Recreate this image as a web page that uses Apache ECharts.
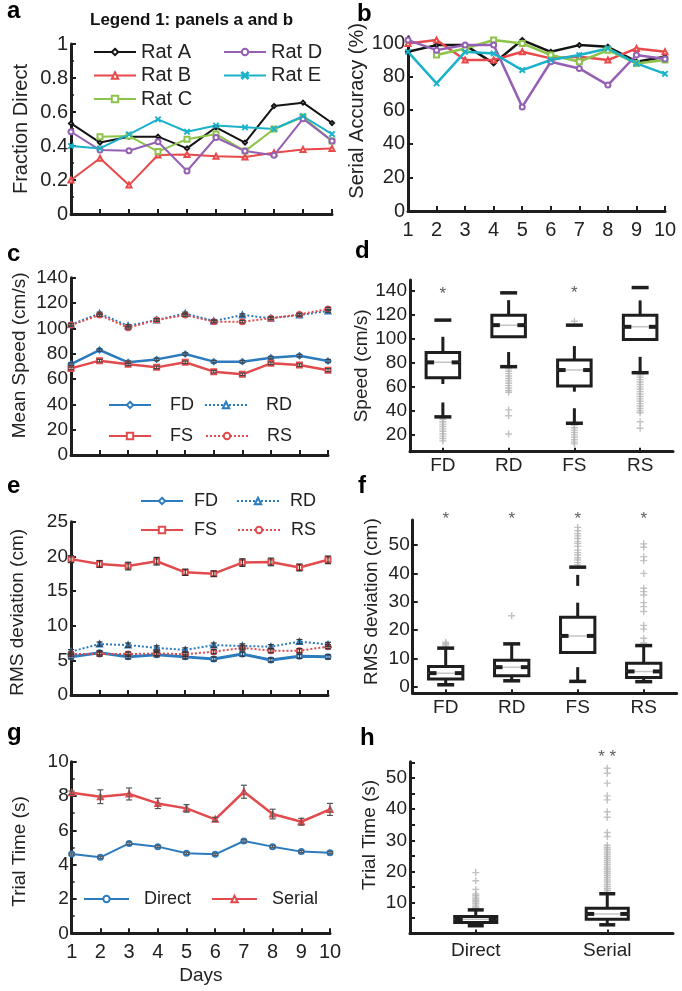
<!DOCTYPE html>
<html><head><meta charset="utf-8">
<script src="https://cdn.jsdelivr.net/npm/echarts@6/dist/echarts.min.js"></script>
<style>html,body{margin:0;padding:0;background:#fff}#c{width:682px;height:991px}</style>
</head><body><div id="c"></div>
<script>
// ---------- DATA ----------
const days = [1,2,3,4,5,6,7,8,9,10];
// panel a : fraction direct
const ratA_frac = [0.533,0.42,0.455,0.455,0.386,0.51,0.42,0.635,0.655,0.535];
const ratB_frac = [0.20,0.328,0.17,0.347,0.35,0.34,0.335,0.36,0.38,0.385];
const ratC_frac = [null,0.455,0.459,0.367,0.44,0.47,0.37,0.50,0.57,0.43];
const ratD_frac = [0.484,0.376,0.372,0.425,0.253,0.45,0.37,0.345,0.56,0.43];
const ratE_frac = [0.40,0.386,0.469,0.557,0.484,0.52,0.51,0.50,0.575,0.47];
// panel b : serial accuracy
const ratA_acc = [94.8,98.8,98.8,87.9,101.8,94.8,98.8,97.8,88.9,91.9];
const ratB_acc = [99.8,101.8,89.9,89.9,94.8,90.9,91.9,89.9,96.8,94.8];
const ratC_acc = [null,92.9,96.8,101.8,99.8,92.9,88.9,95.8,87.9,89.9];
const ratD_acc = [101.8,95.8,98.8,98.8,62.0,88.9,84.9,75.0,92.9,90.5];
const ratE_acc = [94.8,76.0,94.8,93.8,83.9,89.9,92.9,96.8,87.9,81.7];
// panel c : mean speed
const c_FD = [71.8,82.9,73.2,75.5,79.7,73.7,73.7,76.8,78.4,74.2];
const c_RD = [103,111.8,102,106.6,111.8,105.8,110.5,108,110.5,113.7];
const c_FS = [68.4,74.5,71.6,69.2,73.2,65.8,63.7,72.4,71,67];
const c_RS = [102.6,110.5,100.5,106.6,110.5,105.3,105.3,108,111,115.3];
const c_err = [1.0,1.0,1.0,1.0,1.0,1.0,1.0,1.0,1.0,1.2];
// panel e : RMS deviation
const e_FD = [5.5,6.1,5.5,5.8,5.5,5.2,5.9,5.05,5.6,5.5];
const e_RD = [6.25,7.35,7.2,6.8,6.5,7.2,7.07,6.97,7.7,7.3];
const e_FS = [19.6,18.9,18.6,19.3,17.7,17.5,19.1,19.2,18.4,19.5];
const e_RS = [5.9,5.9,5.9,6.0,5.87,6.25,6.8,6.4,6.4,6.97];
const e_FS_err = [0.5,0.5,0.55,0.55,0.45,0.4,0.55,0.55,0.5,0.55];
const e_small_err = [0.3,0.3,0.3,0.3,0.3,0.3,0.3,0.3,0.3,0.3];
// panel g : trial time
const g_direct = [4.62,4.43,5.24,5.05,4.66,4.6,5.38,5.05,4.76,4.7];
const g_serial = [8.19,7.96,8.12,7.57,7.28,6.64,8.25,6.95,6.5,7.22];
const g_direct_err = [0.06,0.06,0.07,0.06,0.06,0.06,0.07,0.06,0.06,0.06];
const g_serial_err = [0.1,0.4,0.35,0.3,0.22,0.12,0.38,0.28,0.2,0.35];
// panel d : speed boxplots  [cat, q1, median, q3]
const dCats = ['FD','RD','FS','RS'];
const dBoxes = [[0,67.6,80.4,88.7],[1,101.7,111.4,119.7],[2,60.7,74,82.3],[3,99.5,110,119.7]];
const dWhiskers = [[0,88.7,101.7],[0,67.6,62.4],[0,47,35],[1,119.7,132.2],[1,89,76.8],[2,82.3,94],[2,60.7,56],[2,42.2,29.7],[3,119.7,132],[3,85,71.8]];
const dCaps = [[0,35],[0,115.6],[1,76.8],[1,138.3],[2,29.7],[2,111.4],[3,71.8],[3,142.7]];
const dOutliers = [[0,33],[0,31],[0,29],[0,27],[0,25],[0,23],[0,21],[0,19],[0,17],[0,15],
  [1,75],[1,73],[1,71],[1,69],[1,67],[1,65],[1,63],[1,61],[1,59],[1,57],[1,55.5],[1,40.8],[1,36],[1,20.8],
  [2,28],[2,26],[2,24],[2,22],[2,20],[2,18],[2,16],[2,14],[2,12.5],[2,114.7],
  [3,70],[3,68],[3,66],[3,64],[3,62],[3,60],[3,58],[3,56],[3,54],[3,52],[3,50],[3,48],[3,46],[3,44],[3,42],[3,40],[3,38.5],[3,31],[3,25.5]];
const dStars = [[0,140.5],[2,141]];
// panel f : RMS deviation boxplots
const fBoxes = [[0,2.8,4.9,7.26],[1,4.0,7.0,9.4],[2,12.2,18.0,24.6],[3,3.4,5.5,8.4]];
const fWhiskers = [[0,7.26,13.7],[0,2.8,0.8],[1,9.4,15.2],[1,4.0,2.2],[2,24.6,29.7],[2,35.6,39.5],[2,7.0,2.0],[3,8.4,14.6],[3,3.4,1.9]];
const fCaps = [[0,13.7],[0,0.8],[1,15.2],[1,2.2],[2,42.2],[2,2.0],[3,14.6],[3,1.9]];
const fOutliers = [[0,13.9],[0,14.4],[0,14.9],[0,15.4],[0,15.8],[1,25.1],
  [2,43],[2,43.8],[2,44.7],[2,45.5],[2,46.5],[2,47.3],[2,48.2],[2,49.5],[2,50.5],[2,51.2],[2,52.3],[2,53.2],[2,54],[2,55],[2,56.2],
  [3,15.5],[3,17.2],[3,20.4],[3,21.7],[3,26.6],[3,28.3],[3,29.7],[3,32.4],[3,33.6],[3,34.8],[3,40],[3,44.5],[3,45.9],[3,49.2],[3,50.4]];
const fStars = [[0,60.5],[1,60.5],[2,60.5],[3,60.5]];
// panel h : trial time boxplots
const hCats = ['Direct','Serial'];
const hBoxes = [[0,3.54,4.6,5.47],[1,4.6,6.3,8.15]];
const hWhiskers = [[0,5.47,7.6],[0,3.54,2.5],[1,8.15,12.8],[1,4.6,2.8]];
const hCaps = [[0,7.6],[0,2.5],[1,12.8],[1,2.8]];
const hOutliers = [[0,8.2],[0,8.7],[0,9.2],[0,9.7],[0,10.2],[0,10.7],[0,11.2],[0,11.7],[0,12.2],[0,12.7],[0,14.2],[0,17],[0,19.6],
  [1,13.3],[1,13.9],[1,14.5],[1,15.1],[1,15.7],[1,16.3],[1,16.9],[1,17.5],[1,18.1],[1,18.7],[1,19.3],[1,19.9],[1,20.5],[1,21.1],[1,21.7],[1,22.3],[1,22.9],[1,23.5],[1,24.1],[1,24.7],[1,25.3],[1,25.9],[1,26.5],[1,27.1],[1,27.7],[1,28.4],
  [1,31.2],[1,32.5],[1,37.4],[1,39.2],[1,43],[1,44.3],[1,48.4],[1,51.6],[1,53.2]];
const hStars = [[1,58]];

// ---------- STYLE ----------
const FONT = '"Liberation Sans", Arial, sans-serif';
const AX = '#1e1e1e', TXT = '#222';
const BLUE = '#2c7bbf', RED = '#e24b4d';
const RC = ['#141414','#e8494b','#8cc34a','#9560b3','#1ab2c9'];
const CROSS = 'path://M0,1L1,0L5,4L9,0L10,1L6,5L10,9L9,10L5,6L1,10L0,9L4,5Z';
const PLUS = 'path://M4,0H6V4H10V6H6V10H4V6H0V4H4Z';

const grids = [
  {left:71, top:44, width:261, height:170},
  {left:408, top:36.7, width:257, height:174.3},
  {left:71, top:277.7, width:257, height:177.3},
  {left:410, top:280, width:263, height:171.7},
  {left:71, top:521.7, width:257, height:173.3},
  {left:412.7, top:520, width:264, height:173.3},
  {left:71.7, top:761.7, width:258.3, height:171.6},
  {left:410, top:761.7, width:263, height:171.8}
];
const axLine = {show:true, onZero:false, lineStyle:{color:AX, width:3}};
const axTick = {show:true, inside:true, length:5, lineStyle:{color:AX, width:2}};
function xLine(gi, labels){ return {gridIndex:gi, type:'value', min:1, max:10, interval:1,
  axisLine:axLine, axisTick:axTick,
  axisLabel:{show:labels, fontSize:20, color:TXT, margin:9, fontFamily:FONT}, splitLine:{show:false}}; }
function xCat(gi, cats, margin){ return {gridIndex:gi, type:'category', data:cats, boundaryGap:true,
  axisLine:axLine, axisTick:{show:true, inside:true, alignWithLabel:true, length:4, lineStyle:{color:AX,width:2}},
  axisLabel:{fontSize:19, color:TXT, margin:margin, fontFamily:FONT}, splitLine:{show:false}}; }
function yAx(gi, o, fs, name, gap, pad){ return Object.assign({gridIndex:gi, type:'value', name:name, nameLocation:'middle', nameGap:gap,
  nameTextStyle:{fontSize:fs, color:TXT, fontFamily:FONT, padding:pad},
  axisLine:axLine, axisTick:axTick,
  axisLabel:{fontSize:fs, color:TXT, margin:3, fontFamily:FONT}, splitLine:{show:false}}, o); }

const minor = {show:true, splitNumber:2, length:3, lineStyle:{color:AX, width:1.5}};
const yAxes = [
  yAx(0, {min:0, max:1, interval:0.2, minorTick:minor}, 20, 'Fraction Direct', 40, [0,0,0,0]),
  yAx(1, {min:0, max:103.8, axisLabel:{fontSize:20,color:TXT,margin:3,fontFamily:FONT,customValues:[0,20,40,60,80,100]},
          axisTick:Object.assign({}, axTick, {customValues:[0,20,40,60,80,100]})}, 20, 'Serial Accuracy (%)', 34, [0,0,0,26]),
  yAx(2, {min:0, max:140, interval:20}, 19, 'Mean Speed (cm/s)', 42, [0,0,0,22]),
  yAx(3, {min:6, max:149, axisLabel:{fontSize:19,color:TXT,margin:3,fontFamily:FONT,customValues:[20,40,60,80,100,120,140]},
          axisTick:Object.assign({}, axTick, {customValues:[20,40,60,80,100,120,140]})}, 19, 'Speed (cm/s)', 34, [0,0,0,0]),
  yAx(4, {min:0, max:25, interval:5}, 19, 'RMS deviation (cm)', 44, [0,8,0,0]),
  yAx(5, {min:-2.2, max:58.8, axisLabel:{fontSize:19,color:TXT,margin:3,fontFamily:FONT,customValues:[0,10,20,30,40,50]},
          axisTick:Object.assign({}, axTick, {customValues:[0,10,20,30,40,50]})}, 19, 'RMS deviation (cm)', 31, [0,0,0,10]),
  yAx(6, {min:0, max:10, interval:2, minorTick:minor}, 19, 'Trial Time (s)', 42, [0,8,0,0]),
  yAx(7, {min:0, max:55.3, axisLabel:{fontSize:19,color:TXT,margin:3,fontFamily:FONT,customValues:[10,20,30,40,50]},
          axisTick:Object.assign({}, axTick, {customValues:[5,10,15,20,25,30,35,40,45,50,55]})}, 19, 'Trial Time (s)', 31, [0,0,0,25])
];
const xAxes = [
  xLine(0,false), xLine(1,true), xLine(2,false), xCat(3,dCats,5),
  xLine(4,false), xCat(5,dCats,5), Object.assign(xLine(6,true), {name:'Days', nameLocation:'middle', nameGap:33, nameTextStyle:{fontSize:19,color:TXT,fontFamily:FONT}}),
  xCat(7,hCats,8)
];

// ---------- SERIES HELPERS ----------
function ln(name, gi, vals, color, symbol, opt){
  opt = opt || {};
  return {type:'line', name:name, xAxisIndex:gi, yAxisIndex:gi,
    data: days.map((d,i)=>[d, vals[i]]), symbol:symbol, symbolSize:opt.size||5,
    lineStyle:{color:color, width:opt.width||2, type:opt.type||'solid'},
    itemStyle:{color:color, borderColor:color, borderWidth:1.2},
    connectNulls:false, z:3, animation:false};
}
function errSeries(gi, vals, errs, color){
  return {type:'custom', xAxisIndex:gi, yAxisIndex:gi, z:4,
    data: days.map((d,i)=>[d, vals[i]-errs[i], vals[i]+errs[i]]),
    encode:{x:0, y:[1,2]},
    renderItem:function(params, api){
      const lo = api.coord([api.value(0), api.value(1)]);
      const hi = api.coord([api.value(0), api.value(2)]);
      const h = 3, st = {stroke:color, lineWidth:1.2};
      return {type:'group', children:[
        {type:'line', shape:{x1:lo[0],y1:lo[1],x2:hi[0],y2:hi[1]}, style:st},
        {type:'line', shape:{x1:lo[0]-h,y1:lo[1],x2:lo[0]+h,y2:lo[1]}, style:st},
        {type:'line', shape:{x1:hi[0]-h,y1:hi[1],x2:hi[0]+h,y2:hi[1]}, style:st}]};
    }};
}
function boxSeries(gi, data, ratio){
  return {type:'custom', xAxisIndex:gi, yAxisIndex:gi, z:5, data:data, encode:{x:0, y:[1,2,3]},
    renderItem:function(params, api){
      const c = api.value(0);
      const p1 = api.coord([c, api.value(1)]), pm = api.coord([c, api.value(2)]), p3 = api.coord([c, api.value(3)]);
      const w = api.size([1,0])[0]*ratio, x0 = p1[0]-w/2, x1 = p1[0]+w/2;
      return {type:'group', children:[
        {type:'rect', shape:{x:x0, y:p3[1], width:w, height:p1[1]-p3[1]}, style:{fill:'#fff', stroke:AX, lineWidth:3}},
        {type:'line', shape:{x1:x0, y1:pm[1], x2:x1, y2:pm[1]}, style:{stroke:'#c4c4c4', lineWidth:1.5}},
        {type:'line', shape:{x1:x0, y1:pm[1], x2:x0+8, y2:pm[1]}, style:{stroke:AX, lineWidth:4}},
        {type:'line', shape:{x1:x1-8, y1:pm[1], x2:x1, y2:pm[1]}, style:{stroke:AX, lineWidth:4}}]};
    }};
}
function whiskerSeries(gi, data){
  return {type:'custom', xAxisIndex:gi, yAxisIndex:gi, z:4, data:data, encode:{x:0, y:[1,2]},
    renderItem:function(params, api){
      const a = api.coord([api.value(0), api.value(1)]), b = api.coord([api.value(0), api.value(2)]);
      return {type:'line', shape:{x1:a[0],y1:a[1],x2:b[0],y2:b[1]}, style:{stroke:AX, lineWidth:3}};
    }};
}
function capSeries(gi, data, cw){
  return {type:'custom', xAxisIndex:gi, yAxisIndex:gi, z:4, data:data, encode:{x:0, y:1},
    renderItem:function(params, api){
      const a = api.coord([api.value(0), api.value(1)]);
      return {type:'line', shape:{x1:a[0]-cw/2,y1:a[1],x2:a[0]+cw/2,y2:a[1]}, style:{stroke:AX, lineWidth:3.5}};
    }};
}
function outSeries(gi, data){
  return {type:'scatter', xAxisIndex:gi, yAxisIndex:gi, z:3, data:data, symbol:PLUS, symbolSize:7,
    itemStyle:{color:'#b3b3b3'}, animation:false};
}
function starSeries(gi, data, txt){
  return {type:'scatter', xAxisIndex:gi, yAxisIndex:gi, z:6, data:data, symbolSize:0, clip:false,
    label:{show:true, position:'inside', formatter:txt, fontSize:17, color:'#333', fontFamily:FONT, offset:[0,4]}};
}

const series = [
  ln('Rat A',0,ratA_frac,RC[0],'emptyDiamond',{size:4}),
  ln('Rat B',0,ratB_frac,RC[1],'emptyTriangle'),
  ln('Rat C',0,ratC_frac,RC[2],'emptyRect'),
  ln('Rat D',0,ratD_frac,RC[3],'emptyCircle'),
  ln('Rat E',0,ratE_frac,RC[4],CROSS),
  ln('Rat A',1,ratA_acc,RC[0],'emptyDiamond',{size:4, width:2.5}),
  ln('Rat B',1,ratB_acc,RC[1],'emptyTriangle',{width:2.5}),
  ln('Rat C',1,ratC_acc,RC[2],'emptyRect',{width:2.5}),
  ln('Rat D',1,ratD_acc,RC[3],'emptyCircle',{width:2.5}),
  ln('Rat E',1,ratE_acc,RC[4],CROSS,{width:2.5}),
  errSeries(2,c_FD,c_err,'#444'), errSeries(2,c_RD,c_err,'#444'), errSeries(2,c_FS,c_err,'#444'), errSeries(2,c_RS,c_err,'#444'),
  ln('FD',2,c_FD,BLUE,'emptyDiamond',{width:2.5}),
  ln('RD',2,c_RD,BLUE,'emptyTriangle',{type:'dotted'}),
  ln('FS',2,c_FS,RED,'emptyRect',{width:2.5}),
  ln('RS',2,c_RS,RED,'emptyCircle',{type:'dotted'}),
  outSeries(3,dOutliers), whiskerSeries(3,dWhiskers), capSeries(3,dCaps,17), boxSeries(3,dBoxes,0.51), starSeries(3,dStars,'*'),
  errSeries(4,e_FD,e_small_err,'#333'), errSeries(4,e_RD,e_small_err,'#333'), errSeries(4,e_FS,e_FS_err,'#333'), errSeries(4,e_RS,e_small_err,'#333'),
  ln('FD',4,e_FD,BLUE,'emptyCircle',{width:3}),
  ln('RD',4,e_RD,BLUE,'emptyTriangle',{type:'dotted'}),
  ln('FS',4,e_FS,RED,'emptyRect',{width:2.5}),
  ln('RS',4,e_RS,RED,'emptyCircle',{type:'dotted'}),
  outSeries(5,fOutliers), whiskerSeries(5,fWhiskers), capSeries(5,fCaps,17), boxSeries(5,fBoxes,0.52), starSeries(5,fStars,'*'),
  errSeries(6,g_direct,g_direct_err,'#555'), errSeries(6,g_serial,g_serial_err,'#555'),
  ln('Direct',6,g_direct,BLUE,'emptyCircle',{size:5}),
  ln('Serial',6,g_serial,RED,'emptyTriangle',{size:5, width:2.5}),
  outSeries(7,hOutliers), whiskerSeries(7,hWhiskers), capSeries(7,hCaps,16), boxSeries(7,hBoxes,0.32), starSeries(7,hStars,'* *')
];

const legBase = {padding:0, itemWidth:42, itemHeight:8, selectedMode:false};
const legends = [
  Object.assign({}, legBase, {data:['Rat A','Rat B','Rat C'], orient:'vertical', left:93, top:42, itemGap:3.5, textStyle:{fontSize:20,color:TXT,fontFamily:FONT}}),
  Object.assign({}, legBase, {data:['Rat D','Rat E'], orient:'vertical', left:223, top:42, itemGap:3.5, textStyle:{fontSize:20,color:TXT,fontFamily:FONT}}),
  Object.assign({}, legBase, {data:['FD','RD'], orient:'horizontal', left:108, top:396, itemGap:10, textStyle:{fontSize:18,color:TXT,fontFamily:FONT,padding:[0,0,0,14]}}),
  Object.assign({}, legBase, {data:['FS','RS'], orient:'horizontal', left:108, top:427, itemGap:12, textStyle:{fontSize:18,color:TXT,fontFamily:FONT,padding:[0,0,0,14]}}),
  Object.assign({}, legBase, {data:['FD','RD'], orient:'horizontal', left:140, top:492, itemGap:18, textStyle:{fontSize:18,color:TXT,fontFamily:FONT,padding:[0,0,0,6]}}),
  Object.assign({}, legBase, {data:['FS','RS'], orient:'horizontal', left:140, top:521, itemGap:20, textStyle:{fontSize:18,color:TXT,fontFamily:FONT,padding:[0,0,0,6]}}),
  Object.assign({}, legBase, {data:['Direct','Serial'], orient:'horizontal', left:83, top:890, itemWidth:45, itemGap:20, textStyle:{fontSize:18,color:TXT,fontFamily:FONT,padding:[0,0,0,10]}})
];

function letter(t, x, y){ return {type:'text', z:10, style:{text:t, x:x, y:y, verticalAlign:'middle', font:'bold 24px ' + FONT, fill:'#000'}}; }
const graphics = [
  letter('a',7,11.5), letter('b',357,14.5), letter('c',7,254), letter('d',355,251.5),
  letter('e',7,486), letter('f',358,486.5), letter('g',7,733), letter('h',360,738.5),
  {type:'text', z:10, style:{text:'Legend 1: panels a and b', x:90, y:20.5, verticalAlign:'middle', font:'bold 17px ' + FONT, fill:'#111'}}
];

const chart = echarts.init(document.getElementById('c'), null, {renderer:'canvas'});
chart.setOption({
  animation:false, backgroundColor:'#fff',
  textStyle:{fontFamily:FONT},
  grid:grids, xAxis:xAxes, yAxis:yAxes, legend:legends, series:series, graphic:graphics
});
</script></body></html>
